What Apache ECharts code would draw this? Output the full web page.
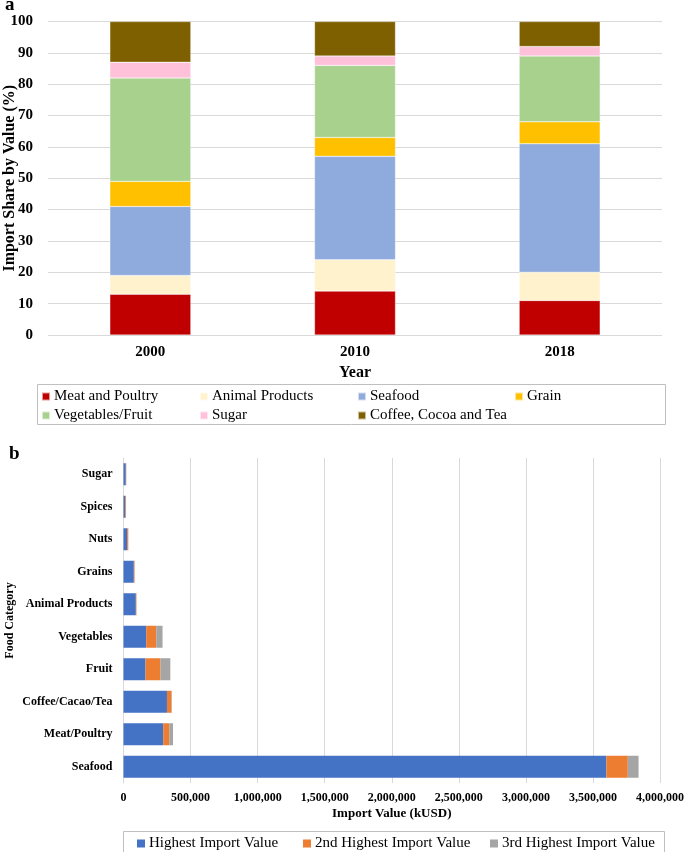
<!DOCTYPE html>
<html>
<head>
<meta charset="utf-8">
<script src="https://cdn.jsdelivr.net/npm/echarts@6/dist/echarts.min.js"></script>
<style>html,body{margin:0;padding:0;background:#fff}#c{width:685px;height:852px}</style>
</head>
<body>
<div id="c"></div>
<script>
// Panel a
const years = ['2000', '2010', '2018'];
const shareNames = ['Meat and Poultry', 'Animal Products', 'Seafood', 'Grain', 'Vegetables/Fruit', 'Sugar', 'Coffee, Cocoa and Tea'];
const meatPoultry = [13, 14, 11];
const animalProducts = [6, 10, 9];
const seafoodShare = [22, 33, 41];
const grain = [8, 6, 7];
const vegFruit = [33, 23, 21];
const sugarShare = [5, 3, 3];
const coffeeCocoaTea = [13, 11, 8];
const shareTicks = [0, 10, 20, 30, 40, 50, 60, 70, 80, 90, 100];

// Panel b
const foodCategories = ['Seafood', 'Meat/Poultry', 'Coffee/Cacao/Tea', 'Fruit', 'Vegetables', 'Animal Products', 'Grains', 'Nuts', 'Spices', 'Sugar'];
const rankNames = ['Highest Import Value', '2nd Highest Import Value', '3rd Highest Import Value'];
const highest = [3600000, 296000, 324000, 164000, 169000, 92000, 77000, 27000, 12000, 17000];
const second = [160000, 45000, 34000, 112000, 75000, 4000, 5000, 8000, 6000, 3000];
const third = [80000, 28000, 3000, 73000, 47000, 1000, 1000, 1000, 1000, 1000];
const valueTicks = [0, 500000, 1000000, 1500000, 2000000, 2500000, 3000000, 3500000, 4000000];

const serif = '"Liberation Serif", "Times New Roman", serif';
const shareColors = ['#C00000', '#FFF2CC', '#8FAADC', '#FFC000', '#A9D18E', '#FFC0DA', '#7F6000'];
const rankColors = ['#4472C4', '#ED7D31', '#A5A5A5'];
const shareData = [meatPoultry, animalProducts, seafoodShare, grain, vegFruit, sugarShare, coffeeCocoaTea];
const rankData = [highest, second, third];

const chart = echarts.init(document.getElementById('c'), null, {renderer: 'canvas'});

const series = [];
shareNames.forEach((n, i) => {
  series.push({
    name: n, type: 'bar', stack: 'a', xAxisIndex: 0, yAxisIndex: 0,
    data: shareData[i], barWidth: 81,
    itemStyle: {color: shareColors[i], borderColor: 'rgba(255,255,255,0.6)', borderWidth: 0.5},
    emphasis: {disabled: true}
  });
});
rankNames.forEach((n, i) => {
  series.push({
    name: n, type: 'bar', stack: 'b', xAxisIndex: 1, yAxisIndex: 1,
    data: rankData[i], barWidth: 22,
    itemStyle: {color: rankColors[i]},
    emphasis: {disabled: true}
  });
});

const fmt = v => v.toString().replace(/\B(?=(\d{3})+(?!\d))/g, ',');

// legend positions (marker left x, text centre y)
const legendSpots = [
  [41, 397], [199, 397], [357, 397], [514, 397],
  [41, 416], [199, 416], [357, 416]
];
const rankSpots = [[137, 844], [303, 844], [490, 844]];
const legendText = {color: '#000', fontFamily: serif, fontSize: 15, fontWeight: 'normal', padding: [0, 0, 0, -1]};
const legends = [];
shareNames.forEach((n, i) => {
  legends.push({
    data: [{name: n, textStyle: {fontFamily: serif}}], left: legendSpots[i][0], top: legendSpots[i][1] - 8, padding: 0,
    itemWidth: 8, itemHeight: 8, itemGap: 0, icon: 'rect',
    textStyle: legendText, selectedMode: false
  });
});
rankNames.forEach((n, i) => {
  legends.push({
    data: [{name: n, textStyle: {fontFamily: serif}}], left: rankSpots[i][0], top: rankSpots[i][1] - 8, padding: 0,
    itemWidth: 8, itemHeight: 8, itemGap: 0, icon: 'rect',
    textStyle: legendText, selectedMode: false
  });
});

chart.setOption({
  animation: false,
  backgroundColor: '#fff',
  textStyle: {fontFamily: serif},
  grid: [
    {left: 48, right: 23, top: 21.5, height: 313.5, outerBoundsMode: 'none', containLabel: false},
    {left: 123.5, right: 25, top: 458, height: 325, outerBoundsMode: 'none', containLabel: false}
  ],
  xAxis: [
    {
      type: 'category', gridIndex: 0, data: years,
      axisLine: {show: false}, axisTick: {show: false},
      axisLabel: {color: '#000', fontFamily: serif, fontWeight: 'bold', fontSize: 15, margin: 10},
      name: 'Year', nameLocation: 'middle', nameGap: 30, nameMoveOverlap: false,
      nameTextStyle: {color: '#000', fontFamily: serif, fontWeight: 'bold', fontSize: 16}
    },
    {
      type: 'value', gridIndex: 1, min: valueTicks[0], max: valueTicks[valueTicks.length - 1], interval: 500000,
      axisLine: {show: false}, axisTick: {show: false},
      splitLine: {lineStyle: {color: '#D9D9D9', width: 1}},
      axisLabel: {color: '#000', fontFamily: serif, fontWeight: 'bold', fontSize: 12, margin: 9, formatter: fmt},
      name: 'Import Value (kUSD)', nameLocation: 'middle', nameGap: 24, nameMoveOverlap: false,
      nameTextStyle: {color: '#000', fontFamily: serif, fontWeight: 'bold', fontSize: 13}
    }
  ],
  yAxis: [
    {
      type: 'value', gridIndex: 0, min: shareTicks[0], max: shareTicks[shareTicks.length - 1], interval: 10,
      axisLine: {show: false}, axisTick: {show: false},
      splitLine: {lineStyle: {color: '#D9D9D9', width: 1}},
      axisLabel: {color: '#000', fontFamily: serif, fontWeight: 'bold', fontSize: 15, margin: 15},
      name: 'Import Share by Value (%)', nameLocation: 'middle', nameGap: 30, nameRotate: 90, nameMoveOverlap: false,
      nameTextStyle: {color: '#000', fontFamily: serif, fontWeight: 'bold', fontSize: 16}
    },
    {
      type: 'category', gridIndex: 1, data: foodCategories,
      axisLine: {show: true, lineStyle: {color: '#D9D9D9'}}, axisTick: {show: false},
      axisLabel: {color: '#000', fontFamily: serif, fontWeight: 'bold', fontSize: 12, margin: 11},
      name: 'Food Category', nameLocation: 'middle', nameGap: 108, nameRotate: 90, nameMoveOverlap: false,
      nameTextStyle: {color: '#000', fontFamily: serif, fontWeight: 'bold', fontSize: 12}
    }
  ],
  legend: legends,
  graphic: [
    {type: 'rect', shape: {x: 37.5, y: 384.5, width: 628, height: 40}, style: {fill: 'none', stroke: '#BFBFBF', lineWidth: 1}, silent: true},
    {type: 'rect', shape: {x: 123.5, y: 831.5, width: 541, height: 30}, style: {fill: 'none', stroke: '#BFBFBF', lineWidth: 1}, silent: true},
    {type: 'text', left: 5, top: -4, style: {text: 'a', font: 'bold 19px ' + serif, fill: '#000'}},
    {type: 'text', left: 9, top: 445, style: {text: 'b', font: 'bold 19px ' + serif, fill: '#000'}}
  ],
  series: series
});
</script>
</body>
</html>
